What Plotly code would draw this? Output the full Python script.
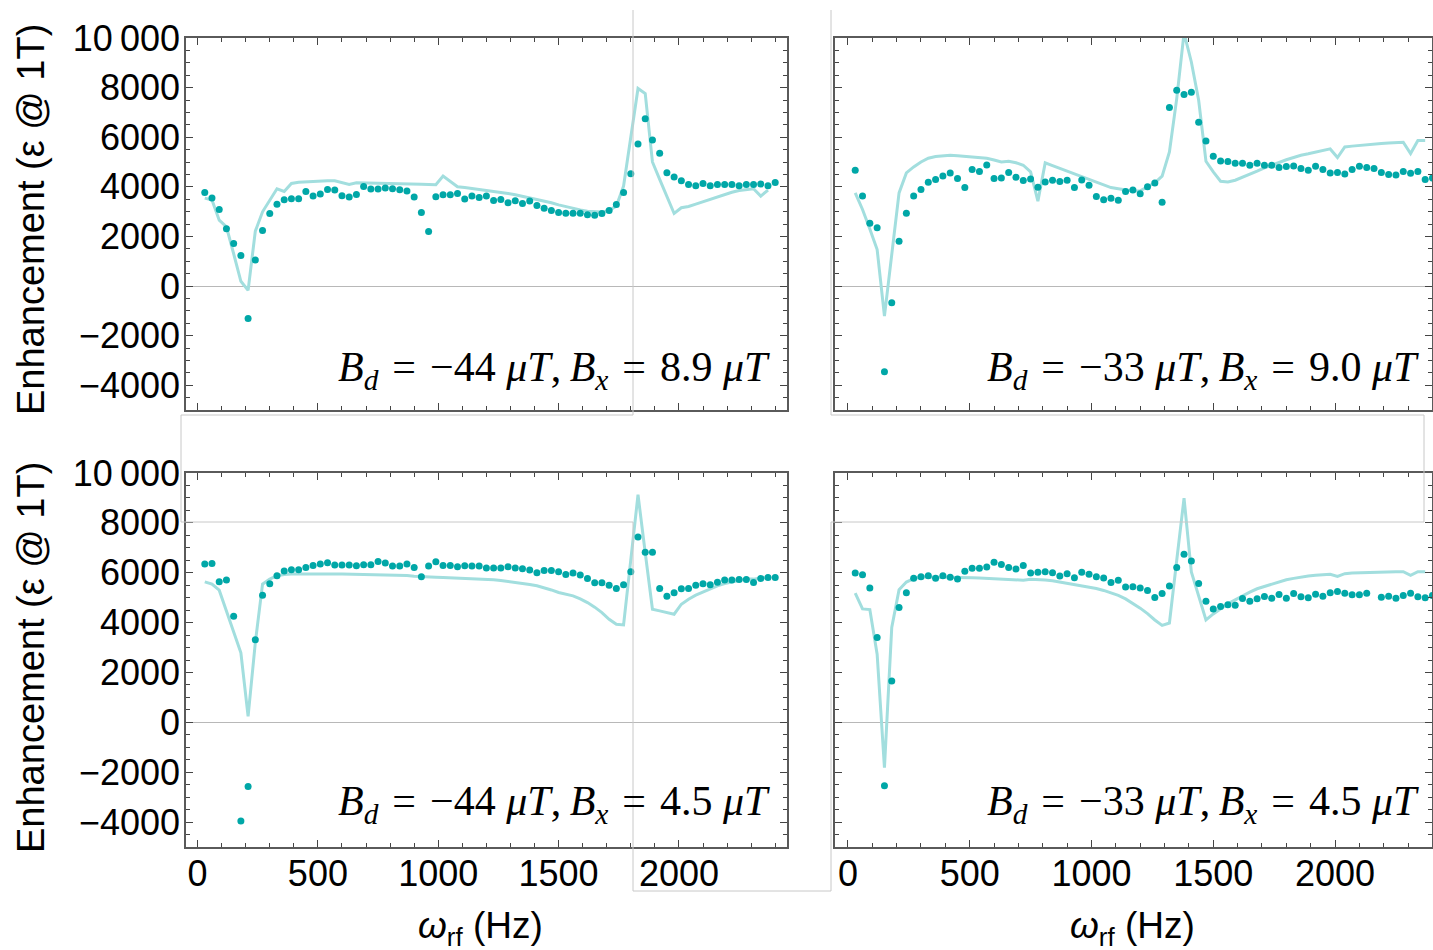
import plotly.graph_objects as go

# ---------------- data ----------------
FREQ = [30, 60, 90, 120, 150, 180, 210, 240, 270, 300,
        330, 360, 390, 420, 450, 480, 510, 540, 570, 600,
        630, 660, 690, 720, 750, 780, 810, 840, 870, 900,
        930, 960, 990, 1020, 1050, 1080, 1110, 1140, 1170, 1200,
        1230, 1260, 1290, 1320, 1350, 1380, 1410, 1440, 1470, 1500,
        1530, 1560, 1590, 1620, 1650, 1680, 1710, 1740, 1770, 1800,
        1830, 1860, 1890, 1920, 1950, 1980, 2010, 2040, 2070, 2100,
        2130, 2160, 2190, 2220, 2250, 2280, 2310, 2340, 2370, 2400]

# Bd = -44 uT, Bx = 8.9 uT
TL_EXP = [3774, 3545, 3086, 2305, 1711, 1226, -1308, 1051, 2237, 2924,
          3301, 3477, 3517, 3517, 3814, 3625, 3706, 3895, 3868, 3639,
          3585, 3693, 4016, 3908, 3908, 3949, 3922, 3881, 3827, 3585,
          2965, 2197, 3598, 3679, 3679, 3733, 3504, 3625, 3571, 3625,
          3450, 3490, 3356, 3437, 3329, 3423, 3248, 3140, 3046, 2965,
          2938, 2938, 2938, 2871, 2857, 2924, 3046, 3288, 3774, 4528,
          5728, 6739, 5890, 5350, 4569, 4394, 4245, 4097, 4043, 4137,
          4043, 4097, 4097, 4097, 4043, 4097, 4097, 4110, 4043, 4178]
TL_TH = [3545, 3464, 2655, 2385, 1300, 189, -175, 2210, 2992, 3450,
         3922, 3814, 4137, 4180, 4200, 4220, 4232, 4240, 4240, 4170,
         4097, 4164, 4160, 4150, 4150, 4140, 4140, 4130, 4120, 4110,
         4100, 4090, 4083, 4434, 4220, 4002, 3970, 3935, 3900, 3868,
         3820, 3780, 3733, 3680, 3620, 3558, 3490, 3420, 3356, 3270,
         3194, 3130, 3070, 3019, 2990, 2979, 3050, 3221, 4030, 6051,
         7965, 7763, 5000, 4300, 3620, 2925, 3154, 3208, 3300, 3400,
         3500, 3600, 3700, 3780, 3850, 3900, 3922, 3625, 3868, None]

# Bd = -33 uT, Bx = 9.0 uT
TR_EXP = [4668, 3634, 2533, 2345, -3457, -677, 1808, 2936, 3634, 3889,
          4185, 4292, 4440, 4561, 4333, 3970, 4695, 4615, 4883, 4333,
          4359, 4574, 4386, 4252, 4319, 3983, 4198, 4265, 4212, 4265,
          3970, 4279, 4064, 3607, 3473, 3540, 3460, 3809, 3876, 3715,
          3997, 4158, 3379, 7193, 7892, 7717, 7811, 6602, 5850, 5232,
          5044, 5017, 4950, 4950, 4870, 4950, 4870, 4870, 4776, 4816,
          4843, 4735, 4668, 4830, 4695, 4561, 4574, 4521, 4695, 4830,
          4776, 4735, 4574, 4494, 4480, 4615, 4547, 4615, 4292, 4359]
TR_TH = [3755, 3084, 2300, 1472, -1214, 1200, 3755, 4561, 4800, 5000,
         5152, 5220, 5250, 5272, 5250, 5220, 5180, 5170, 5150, 5080,
         5000, 5030, 4970, 4870, 4600, 3420, 4964, 4850, 4740, 4630,
         4520, 4410, 4300, 4190, 4080, 3970, 3920, 3880, 3830, 3840,
         3990, 4158, 4427, 5407, 7556, 10200, 9033, 7489, 5031, 4600,
         4225, 4198, 4265, 4380, 4494, 4630, 4762, 4880, 4990, 5090,
         5180, 5272, 5330, 5400, 5460, 5528, 5179, 5608, 5640, 5670,
         5716, 5730, 5750, 5770, 5780, 5797, 5340, 5864, 5864, None]

# Bd = -44 uT, Bx = 4.5 uT
BL_EXP = [6348, 6375, 5636, 5704, 4254, -3959, -2577, 3315, 5100, 5556,
          5878, 6066, 6120, 6120, 6213, 6294, 6348, 6401, 6307, 6307,
          6307, 6281, 6321, 6321, 6455, 6388, 6267, 6267, 6348, 6213,
          5838, 6267, 6442, 6294, 6294, 6240, 6281, 6267, 6267, 6187,
          6187, 6187, 6240, 6187, 6160, 6106, 5999, 6093, 6093, 6039,
          5932, 5985, 5905, 5771, 5596, 5596, 5502, 5368, 5516, 6039,
          7435, 6817, 6817, 5368, 5059, 5194, 5355, 5368, 5502, 5556,
          5516, 5623, 5704, 5704, 5730, 5730, 5610, 5771, 5811, 5811]
BL_TH = [5636, 5542, 5300, 4450, 3650, 2791, 242, 3200, 5542, 5744,
         5880, 5932, 5950, 5955, 5960, 5960, 5960, 5955, 5950, 5950,
         5945, 5940, 5940, 5935, 5930, 5925, 5915, 5900, 5885, 5860,
         5838, 5830, 5820, 5811, 5800, 5790, 5780, 5765, 5755, 5744,
         5720, 5690, 5655, 5623, 5580, 5530, 5475, 5400, 5310, 5207,
         5140, 5073, 4950, 4804, 4620, 4402, 4134, 3932, 3905, 6500,
         9126, 6800, 4536, 4469, 4400, 4335, 4737, 4938, 5100, 5234,
         5368, 5475, 5570, 5636, 5704, 5744, 5744, 5784, 5784, None]

# Bd = -33 uT, Bx = 4.5 uT
BR_EXP = [5990, 5922, 5384, 3405, -2544, 1656, 4603, 5196, 5774, 5842,
          5882, 5774, 5882, 5815, 5747, 6057, 6178, 6178, 6232, 6420,
          6326, 6205, 6151, 6286, 5990, 6017, 6044, 6003, 5869, 5963,
          5801, 6017, 5936, 5842, 5788, 5613, 5694, 5424, 5438, 5384,
          5290, 5007, 5169, 5465, 6205, 6743, 6474, 5572, 4859, 4549,
          4644, 4711, 4697, 4967, 4859, 4953, 5047, 4980, 5128, 4980,
          5169, 5034, 4994, 5142, 5061, 5196, 5249, 5182, 5115, 5115,
          5182, None, 5021, 5061, 4980, 5088, 5182, 5034, 4994, 5088]
BR_TH = [5182, 4549, 4522, 2732, -1817, 3809, 5317, 5626, 5761, 5828,
         5828, 5828, 5825, 5820, 5815, 5810, 5800, 5790, 5780, 5770,
         5760, 5745, 5730, 5700, 5740, 5740, 5710, 5680, 5630, 5590,
         5550, 5500, 5440, 5370, 5290, 5200, 5090, 4950, 4780, 4580,
         4360, 4105, 3890, 3984, 6500, 8991, 6030, 5088, 4105, 4347,
         4549, 4751, 4913, 5075, 5222, 5357, 5451, 5559, 5640, 5720,
         5774, 5828, 5869, 5895, 5922, 5936, 5855, 5963, 5990, 6003,
         6017, 6030, 6044, 6044, 6044, 6044, 5895, 6044, 6044, None]

EQ = "\u2004=\u2004"
LABELS = [
    f"<i>B</i><sub><i>d</i></sub>{EQ}\u221244 <i>\u03bcT</i>,\u2009<i>B</i><sub><i>x</i></sub>{EQ}8.9 <i>\u03bcT</i>",
    f"<i>B</i><sub><i>d</i></sub>{EQ}\u221233 <i>\u03bcT</i>,\u2009<i>B</i><sub><i>x</i></sub>{EQ}9.0 <i>\u03bcT</i>",
    f"<i>B</i><sub><i>d</i></sub>{EQ}\u221244 <i>\u03bcT</i>,\u2009<i>B</i><sub><i>x</i></sub>{EQ}4.5 <i>\u03bcT</i>",
    f"<i>B</i><sub><i>d</i></sub>{EQ}\u221233 <i>\u03bcT</i>,\u2009<i>B</i><sub><i>x</i></sub>{EQ}4.5 <i>\u03bcT</i>",
]

X_TICKS = [0, 500, 1000, 1500, 2000]
X_TICK_LABELS = ["0", "500", "1000", "1500", "2000"]
Y_TICKS = [-4000, -2000, 0, 2000, 4000, 6000, 8000, 10000]
Y_TICK_LABELS = ["\u22124000", "\u22122000", "0", "2000", "4000", "6000", "8000", "10\u2009000"]

Y_TITLE = "Enhancement (\u03b5 @ 1T)"
X_TITLE = "<i>\u03c9</i><sub>rf</sub> (Hz)"

# ---------------- layout helpers ----------------
W, H = 1433, 950
def px(x):
    return x / W
def py(y):
    return 1 - y / H

LINE_COLOR = "#a2dede"
DOT_COLOR = "#00a7a7"
FRAME = "#5a5a5a"
TICKC = "#444444"
TICKFONT = dict(family="Liberation Sans, Arial, sans-serif", size=36, color="black")

panels = [
    dict(x0=186, x1=787, y0=38, y1=410, xr=[-48, 2449], xl=False, yl=True, exp=TL_EXP, th=TL_TH, lab=LABELS[0], lx=772, ly=370),
    dict(x0=835, x1=1432, y0=38, y1=410, xr=[-53, 2398], xl=False, yl=False, exp=TR_EXP, th=TR_TH, lab=LABELS[1], lx=1421, ly=370),
    dict(x0=186, x1=787, y0=473, y1=847, xr=[-48, 2449], xl=True, yl=True, exp=BL_EXP, th=BL_TH, lab=LABELS[2], lx=772, ly=804),
    dict(x0=835, x1=1432, y0=473, y1=847, xr=[-53, 2398], xl=True, yl=False, exp=BR_EXP, th=BR_TH, lab=LABELS[3], lx=1421, ly=804),
]

fig = go.Figure()
annotations = []
minor_x = [v for v in range(0, 2500, 100) if v % 500 != 0]
minor_y = [v for v in range(-5000, 10001, 500) if v % 2000 != 0]

for i, p in enumerate(panels, start=1):
    xa = "x" if i == 1 else f"x{i}"
    ya = "y" if i == 1 else f"y{i}"
    fig.add_trace(go.Scatter(x=FREQ, y=p["th"], mode="lines", xaxis=xa, yaxis=ya,
                             line=dict(color=LINE_COLOR, width=3), connectgaps=False,
                             hoverinfo="skip", showlegend=False))
    fig.add_trace(go.Scatter(x=FREQ, y=p["exp"], mode="markers", xaxis=xa, yaxis=ya,
                             marker=dict(color=DOT_COLOR, size=7, line=dict(width=0)),
                             showlegend=False))
    xkey = "xaxis" if i == 1 else f"xaxis{i}"
    ykey = "yaxis" if i == 1 else f"yaxis{i}"
    fig.layout[xkey] = dict(
        domain=[px(p["x0"]), px(p["x1"])], anchor=ya, range=p["xr"], automargin=False,
        showline=True, linecolor=FRAME, linewidth=1.5, mirror="ticks",
        ticks="inside", ticklen=7, tickwidth=1.2, tickcolor=TICKC,
        tickmode="array", tickvals=X_TICKS, ticktext=X_TICK_LABELS,
        showticklabels=p["xl"], tickfont=TICKFONT, ticklabelstandoff=-6,
        minor=dict(ticks="inside", ticklen=4, tickwidth=1, tickcolor=TICKC, tickmode="array", tickvals=minor_x),
        showgrid=False, zeroline=False, fixedrange=True,
    )
    fig.layout[ykey] = dict(
        domain=[py(p["y1"]), py(p["y0"])], anchor=xa, range=[-5000, 10000], automargin=False,
        showline=True, linecolor=FRAME, linewidth=1.5, mirror="ticks",
        ticks="inside", ticklen=7, tickwidth=1.2, tickcolor=TICKC,
        tickmode="array", tickvals=Y_TICKS, ticktext=Y_TICK_LABELS,
        showticklabels=p["yl"], tickfont=TICKFONT, ticklabelstandoff=-3,
        minor=dict(ticks="inside", ticklen=4, tickwidth=1, tickcolor=TICKC, tickmode="array", tickvals=minor_y),
        showgrid=False, zeroline=True, zerolinecolor="#b8b8b8", zerolinewidth=1, fixedrange=True,
    )
    annotations.append(dict(text=p["lab"], xref="paper", yref="paper", x=px(p["lx"]), y=py(p["ly"]),
                            xanchor="right", yanchor="middle", showarrow=False,
                            font=dict(family="Liberation Serif, Times New Roman, serif", size=42, color="black")))

# axis titles
for yc in (220, 658):
    annotations.append(dict(text=Y_TITLE, xref="paper", yref="paper", x=px(31), y=py(yc),
                            xanchor="center", yanchor="middle", textangle=-90, showarrow=False,
                            font=dict(family="Liberation Sans, Arial, sans-serif", size=38, color="black")))
for xc in (480, 1132):
    annotations.append(dict(text=X_TITLE, xref="paper", yref="paper", x=px(xc), y=py(928),
                            xanchor="center", yanchor="middle", showarrow=False,
                            font=dict(family="Liberation Sans, Arial, sans-serif", size=37, color="black")))

# thin gray outline artifacts of the composed figure
ART = "#c8c8c8"
segments = [
    (633, 10, 633, 415), (181, 415, 633, 415), (181, 415, 181, 522), (181, 522, 633, 522),
    (633, 522, 633, 891), (633, 891, 831, 891), (831, 891, 831, 522), (831, 522, 1424, 522),
    (1424, 522, 1424, 415), (1424, 415, 831, 415), (831, 415, 831, 10),
]
shapes = [dict(type="line", xref="paper", yref="paper", x0=px(a), y0=py(b), x1=px(c), y1=py(d),
               line=dict(color=ART, width=1), layer="above") for a, b, c, d in segments]

fig.update_layout(
    width=W, height=H, margin=dict(l=0, r=0, t=0, b=0, pad=0, autoexpand=False),
    paper_bgcolor="white", plot_bgcolor="white",
    annotations=annotations, shapes=shapes, showlegend=False,
)

fig.write_html(
    "out.html",
    config={"displayModeBar": False},
    post_script="document.body.style.margin='0';document.body.style.overflow='hidden';document.documentElement.style.overflow='hidden';",
)
